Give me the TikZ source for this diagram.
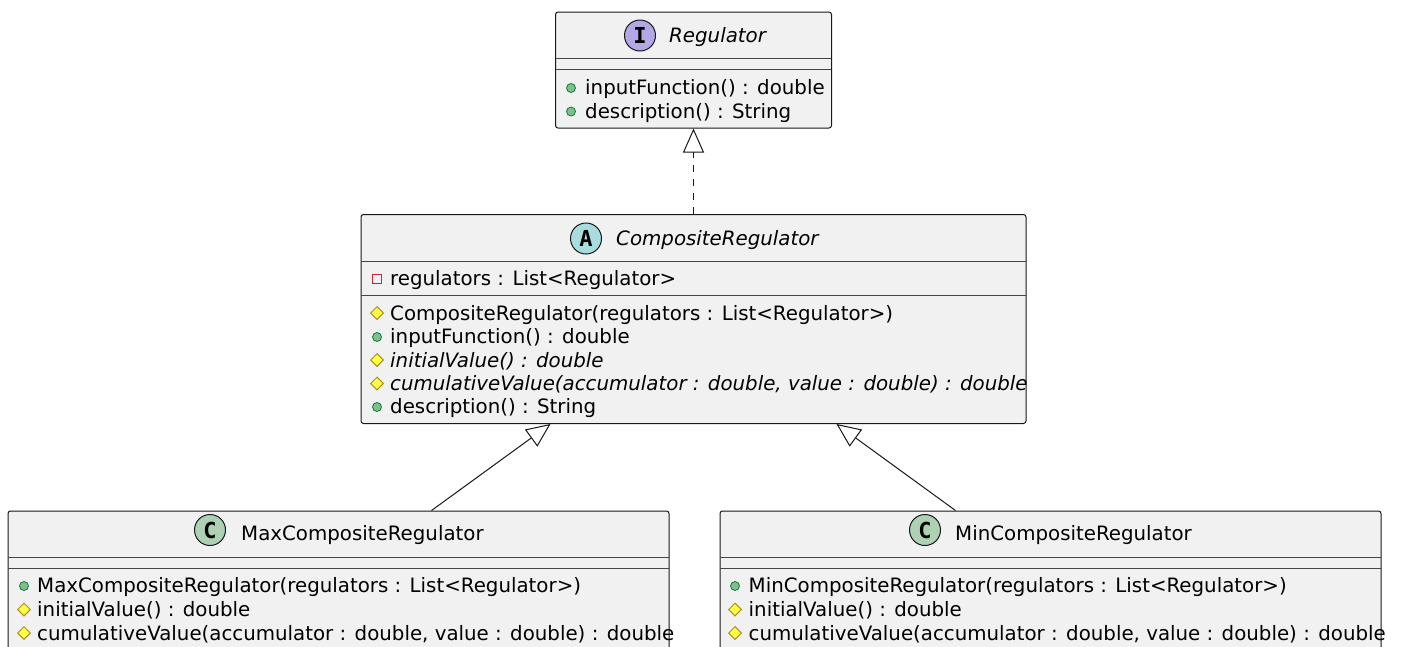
\documentclass[tikz,border=0pt]{standalone}
\usepackage{fontspec}
\setmainfont{DejaVu Sans}
\newfontfamily\iconfont{DejaVu Sans Mono}
\usetikzlibrary{arrows.meta,calc}
\definecolor{boxfill}{HTML}{F1F1F1}
\definecolor{boxline}{HTML}{181818}
\definecolor{icI}{HTML}{B4A7E5}
\definecolor{icA}{HTML}{A9DCDF}
\definecolor{icC}{HTML}{ADD1B2}
\definecolor{pubfill}{HTML}{84BE84}
\definecolor{publine}{HTML}{038048}
\definecolor{profill}{HTML}{FFFF44}
\definecolor{proline}{HTML}{B38D22}
\definecolor{privline}{HTML}{C82930}
\tikzset{
  classbox/.style={draw=boxline, fill=boxfill, line width=1pt, rounded corners=2.5pt, inner sep=0pt},
  sepline/.style={draw=boxline!80, line width=1pt},
  member/.style={anchor=base west, inner sep=0pt, font=\fontsize{19.8}{24}\selectfont},
  titletext/.style={anchor=base west, inner sep=0pt, font=\fontsize{19.8}{24}\selectfont},
  icon/.style={circle, draw=boxline, line width=1pt, minimum size=31pt, inner sep=0pt, font=\iconfont\bfseries\fontsize{22}{22}\selectfont},
  pub/.style={circle, draw=publine, fill=pubfill, line width=0.8pt, minimum size=9pt, inner sep=0pt},
  priv/.style={rectangle, draw=privline, line width=1pt, minimum size=8.5pt, inner sep=0pt},
  inherit/.style={draw=boxline, line width=1pt, -{Triangle[open, length=24pt, width=21pt, fill=white]}},
}
\newcommand{\prodiamond}[2]{\fill[profill,draw=proline,line width=1pt] (#1,#2) ++(0,-6.3) -- ++(6.3,6.3) -- ++(-6.3,6.3) -- ++(-6.3,-6.3) -- cycle;}
\begin{document}
\begin{tikzpicture}[x=1pt,y=-1pt]
\useasboundingbox (0,0) rectangle (1401,646);
\clip (0,0) rectangle (1401,646);
\fill[white] (0,0) rectangle (1401,646);

% Regulator
\node[classbox, minimum width=276pt, minimum height=116pt] (reg) at (693.5,70) {};
\draw[sepline] (556,58) -- (831,58);
\draw[sepline] (556,69) -- (831,69);
\node[icon, fill=icI] (regicon) at (640,35.5) {I};
\node[titletext] (regtitle) at (669,42) {\itshape Regulator};
\node[pub] (rm1) at (571,88) {};
\node[member] (rt1) at (585,94.5) {inputFunction() : double};
\node[pub] (rm2) at (571,111.5) {};
\node[member] (rt2) at (585,118) {description() : String};

% CompositeRegulator
\node[classbox, minimum width=665pt, minimum height=209pt] (comp) at (693.5,319) {};
\draw[sepline] (361,261) -- (1026,261);
\draw[sepline] (361,295) -- (1026,295);
\node[icon, fill=icA] (compicon) at (586,238.5) {A};
\node[titletext] (comptitle) at (616,245.5) {\itshape CompositeRegulator};
\node[priv] (cm0) at (377,279) {};
\node[member] (ct0) at (390,285.5) {regulators : List<Regulator>};
\prodiamond{377}{313}
\node[member] (ct1) at (390,320) {CompositeRegulator(regulators : List<Regulator>)};
\node[pub] (cm2) at (377,337) {};
\node[member] (ct2) at (390,343.5) {inputFunction() : double};
\prodiamond{377}{360}
\node[member] (ct3) at (390,367) {\itshape initialValue() : double};
\prodiamond{377}{383.5}
\node[member] (ct4) at (390,390.5) {\itshape cumulativeValue(accumulator : double, value : double) : double};
\node[pub] (cm5) at (377,407) {};
\node[member] (ct5) at (390,413.5) {description() : String};

% MaxCompositeRegulator
\node[classbox, minimum width=661pt, minimum height=200pt] (max) at (338.5,611) {};
\draw[sepline] (8,557) -- (669,557);
\draw[sepline] (8,568) -- (669,568);
\node[icon, fill=icC] (maxicon) at (210,530) {C};
\node[titletext] (maxtitle) at (241,540.5) {MaxCompositeRegulator};
\node[pub] (xm1) at (24,586) {};
\node[member] (xt1) at (37,592.5) {MaxCompositeRegulator(regulators : List<Regulator>)};
\prodiamond{24}{609.5}
\node[member] (xt2) at (37,616.5) {initialValue() : double};
\prodiamond{24}{633}
\node[member] (xt3) at (37,640) {cumulativeValue(accumulator : double, value : double) : double};

% MinCompositeRegulator
\node[classbox, minimum width=661pt, minimum height=200pt] (min) at (1050.5,611) {};
\draw[sepline] (720,557) -- (1381,557);
\draw[sepline] (720,568) -- (1381,568);
\node[icon, fill=icC] (minicon) at (925,530) {C};
\node[titletext] (mintitle) at (955,540.5) {MinCompositeRegulator};
\node[pub] (nm1) at (735,586) {};
\node[member] (nt1) at (748.5,592.5) {MinCompositeRegulator(regulators : List<Regulator>)};
\prodiamond{735}{609.5}
\node[member] (nt2) at (748.5,616.5) {initialValue() : double};
\prodiamond{735}{633}
\node[member] (nt3) at (748.5,640) {cumulativeValue(accumulator : double, value : double) : double};

% connectors
\draw[inherit, dash pattern=on 7pt off 7pt] (comp.north) -- (reg.south);
\draw[inherit] ($(max.north west)+(424,0)$) -- ($(comp.south west)+(190,0)$);
\draw[inherit] ($(min.north west)+(236,0)$) -- ($(comp.south west)+(476,0)$);
\end{tikzpicture}
\end{document}
